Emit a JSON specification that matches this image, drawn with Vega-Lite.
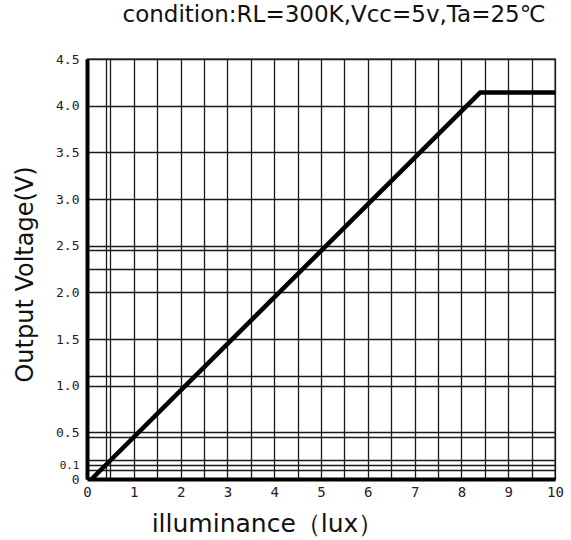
{
  "$schema": "https://vega.github.io/schema/vega-lite/v6.json",
  "width": 468,
  "height": 420,
  "autosize": {"type": "none"},
  "padding": {"left": 87, "top": 59, "right": 16, "bottom": 61},
  "background": "white",
  "title": {
    "text": "condition:RL=300K,Vcc=5v,Ta=25℃",
    "font": "DejaVu Sans",
    "fontSize": 23,
    "fontWeight": "normal",
    "color": "#111",
    "anchor": "middle",
    "dx": 13,
    "offset": 26
  },
  "data": {
    "values": [
      {"lux": 0.1, "voltage": 0},
      {"lux": 8.4, "voltage": 4.14},
      {"lux": 10, "voltage": 4.14}
    ]
  },
  "mark": {"type": "line", "color": "black", "strokeWidth": 4.5, "strokeCap": "butt", "strokeJoin": "miter", "clip": true},
  "encoding": {
    "x": {
      "field": "lux",
      "type": "quantitative",
      "scale": {"domain": [0, 10], "nice": false, "zero": false},
      "axis": {
        "title": "illuminance（lux）",
        "values": [0, 0.4, 0.5, 1, 1.5, 2, 2.5, 3, 3.5, 4, 4.5, 5, 5.5, 6, 6.5, 7, 7.5, 8, 8.5, 9, 9.5, 10],
        "labelExpr": "datum.value % 1 == 0 ? format(datum.value, 'd') : ''",
        "labelFont": "DejaVu Sans Mono",
        "labelFontSize": 14,
        "labelColor": "#222",
        "labelPadding": 6,
        "labelFlush": false,
        "labelOverlap": false,
        "labelBound": false,
        "ticks": false,
        "grid": true,
        "gridColor": "#1a1a1a",
        "gridWidth": 1.3,
        "gridOpacity": 1,
        "domainColor": "black",
        "domainWidth": 4,
        "titleFont": "DejaVu Sans",
        "titleFontSize": 25,
        "titleFontWeight": "normal",
        "titleColor": "#111",
        "titleX": 180,
        "titleY": 52,
        "titleBaseline": "alphabetic",
        "titleAlign": "center"
      }
    },
    "y": {
      "field": "voltage",
      "type": "quantitative",
      "scale": {"domain": [0, 4.5], "nice": false, "zero": false},
      "axis": {
        "title": "Output Voltage(V)",
        "values": [0, 0.1, 0.15, 0.2, 0.45, 0.5, 1, 1.1, 1.5, 2, 2.25, 2.45, 2.5, 3, 3.5, 4, 4.5],
        "labelExpr": "indexof([0, 0.1, 0.5, 1, 1.5, 2, 2.5, 3, 3.5, 4, 4.5], datum.value) < 0 ? '' : (datum.value == 0 ? '0' : format(datum.value, '.1f'))",
        "labelFont": "DejaVu Sans Mono",
        "labelFontSize": {"condition": {"test": "datum.value == 0.1", "value": 11}, "value": 13},
        "labelColor": "#222",
        "labelPadding": 8,
        "labelOffset": {"condition": {"test": "datum.value == 0.1", "value": -4}, "value": 0},
        "labelFlush": false,
        "labelOverlap": false,
        "labelBound": false,
        "ticks": false,
        "grid": true,
        "gridColor": "#1a1a1a",
        "gridWidth": 1.3,
        "gridOpacity": 1,
        "domainColor": "black",
        "domainWidth": 4,
        "titleFont": "DejaVu Sans",
        "titleFontSize": 24,
        "titleFontWeight": "normal",
        "titleColor": "#111",
        "titleAngle": -90,
        "titleX": -62,
        "titleY": 215,
        "titleBaseline": "middle",
        "titleAlign": "center"
      }
    }
  },
  "config": {
    "view": {"stroke": "black", "strokeWidth": 1.3}
  }
}
